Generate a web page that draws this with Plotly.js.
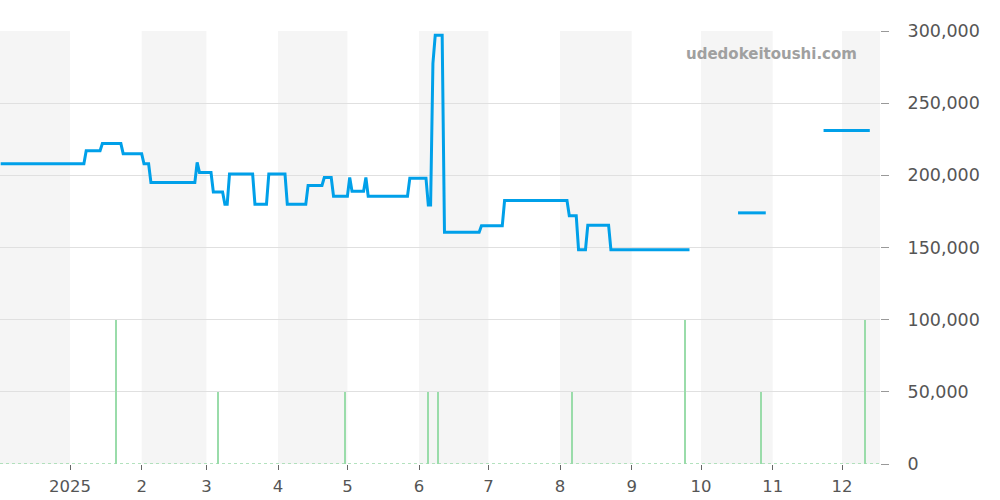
<!DOCTYPE html>
<html>
<head>
<meta charset="utf-8">
<script src="https://cdn.plot.ly/plotly-3.0.1.min.js"></script>
<style>html,body{margin:0;padding:0;background:#fff}#chart{width:1000px;height:500px}</style>
</head>
<body>
<div id="chart"></div>
<script>
// Price series (blue line); null marks a gap with no data
const priceDates = [
  '2024-12-02','2025-01-07','2025-01-08','2025-01-14','2025-01-15','2025-01-23','2025-01-24','2025-02-01',
  '2025-02-02','2025-02-04','2025-02-05','2025-02-24','2025-02-25','2025-02-26','2025-03-03','2025-03-04',
  '2025-03-08','2025-03-09','2025-03-10','2025-03-11','2025-03-21','2025-03-22','2025-03-27','2025-03-28',
  '2025-04-04','2025-04-05','2025-04-13','2025-04-14','2025-04-20','2025-04-21','2025-04-24','2025-04-25',
  '2025-05-01','2025-05-02','2025-05-03','2025-05-08','2025-05-09','2025-05-10','2025-05-27','2025-05-28',
  '2025-06-04','2025-06-05','2025-06-06','2025-06-07','2025-06-08','2025-06-11','2025-06-12','2025-06-27',
  '2025-06-28','2025-07-07','2025-07-08','2025-08-04','2025-08-05','2025-08-08','2025-08-09','2025-08-12',
  '2025-08-13','2025-08-22','2025-08-23','2025-09-26','2025-10-07','2025-10-17','2025-10-29','2025-11-10',
  '2025-11-23','2025-12-13'
];
const priceValues = [
  208000,208000,217000,217000,222000,222000,215000,215000,
  208000,208000,195000,195000,209000,202000,202000,188500,
  188500,180000,180000,201000,201000,180000,180000,201000,
  201000,180000,180000,193000,193000,198500,198500,185500,
  185500,198500,189000,189000,198500,185500,185500,198000,
  198000,179500,179500,277500,297000,297000,160500,160500,
  165000,165000,182500,182500,172000,172000,148500,148500,
  165500,165500,148500,148500,null,174000,174000,null,
  231000,231000
];

// Volume series (green bars)
const volumeDates = ['2025-01-21','2025-03-06','2025-04-30','2025-06-05','2025-06-09','2025-08-06','2025-09-24','2025-10-27','2025-12-11'];
const volumeCounts = [2,1,1,1,1,1,2,1,2];

// X tick labels
const tickDates = ['2025-01-01','2025-02-01','2025-03-01','2025-04-01','2025-05-01','2025-06-01','2025-07-01','2025-08-01','2025-09-01','2025-10-01','2025-11-01','2025-12-01'];
const tickLabels = ['2025','2','3','4','5','6','7','8','9','10','11','12'];

// Alternate month shading
const shapes = [];
for (let i = 0; i < 14; i += 2) {
  const s = new Date(Date.UTC(2024, 11 + i, 1));
  const e = new Date(Date.UTC(2024, 12 + i, 1));
  shapes.push({type:'rect', xref:'x', yref:'paper', x0:s.toISOString().slice(0,10), x1:e.toISOString().slice(0,10),
    y0:0, y1:1, fillcolor:'#f5f5f5', line:{width:0}, layer:'below'});
}
shapes.push({type:'line', xref:'paper', yref:'y', x0:0, x1:1, y0:0, y1:0,
  line:{color:'#9bd9a9', width:1.5, dash:'dot'}, layer:'above'});

const traces = [
  {type:'bar', x:volumeDates, y:volumeCounts, yaxis:'y2', width:0.9*86400000,
   marker:{color:'#9adcaa', line:{width:0}}, hoverinfo:'skip'},
  {type:'scatter', mode:'lines', x:priceDates, y:priceValues, connectgaps:false,
   line:{color:'#00a0e9', width:3}, hoverinfo:'skip'}
];

const layout = {
  width:1000, height:500,
  margin:{l:0, r:120, t:31, b:36, pad:0},
  paper_bgcolor:'#fff', plot_bgcolor:'#fff',
  showlegend:false,
  font:{family:'DejaVu Sans', color:'#555', size:16},
  xaxis:{type:'date', range:['2024-12-01 17:00','2025-12-17 10:00'],
    tickvals:tickDates, ticktext:tickLabels, showgrid:false, zeroline:false, showline:false,
    ticks:'outside', ticklen:5, tickcolor:'#666', ticklabelstandoff:2, tickfont:{size:16.5, color:'#555'}},
  yaxis:{side:'right', range:[0,300000], tickvals:[0,50000,100000,150000,200000,250000,300000],
    tickformat:',d', gridcolor:'#e0e0e0', gridwidth:1, zeroline:false, showline:false,
    ticks:'outside', ticklen:8, tickcolor:'#999', ticklabelstandoff:15, tickfont:{size:17.5, color:'#555'}},
  yaxis2:{overlaying:'y', range:[0,6], visible:false, showgrid:false, zeroline:false},
  shapes:shapes,
  annotations:[{text:'udedokeitoushi.com', xref:'paper', yref:'paper', x:0.877, y:0.947,
    xanchor:'center', yanchor:'middle', showarrow:false,
    font:{family:'DejaVu Sans', size:15, color:'#a0a0a0', weight:'bold'}}],
  bargap:0
};

Plotly.newPlot('chart', traces, layout, {staticPlot:true, displayModeBar:false});
</script>
</body>
</html>
